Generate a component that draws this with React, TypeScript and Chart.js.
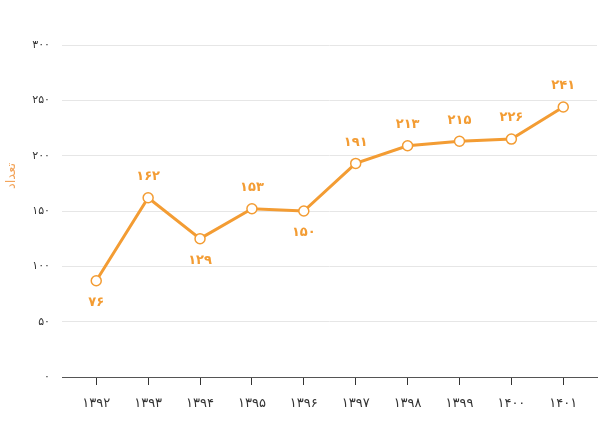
import React, { useEffect, useRef } from "react";
import { Chart, registerables } from "chart.js";

Chart.register(...registerables);

const years = [1392, 1393, 1394, 1395, 1396, 1397, 1398, 1399, 1400, 1401];
const values = [87, 162, 125, 152, 150, 193, 209, 213, 215, 244];
const valueLabels = [76, 162, 129, 153, 150, 191, 213, 215, 226, 241];
const yTicks = [0, 50, 100, 150, 200, 250, 300];
const yTitle = "تعداد";

const FA = "۰۱۲۳۴۵۶۷۸۹";
const fa = (n: number | string) => String(n).replace(/[0-9]/g, (d) => FA[Number(d)]);

const ORANGE = "#f39c33";
const FONT = "'DejaVu Sans', 'Noto Sans', sans-serif";

const labelPlugin = {
  id: "valueLabels",
  afterDatasetsDraw(chart: any) {
    const ctx = chart.ctx;
    const meta = chart.getDatasetMeta(0);
    ctx.save();
    ctx.fillStyle = ORANGE;
    ctx.font = `bold 13px ${FONT}`;
    ctx.textAlign = "center";
    ctx.textBaseline = "middle";
    meta.data.forEach((pt: any, i: number) => {
      const v = values[i];
      const prev = i > 0 ? values[i - 1] : Infinity;
      const next = i < values.length - 1 ? values[i + 1] : Infinity;
      const below = v < prev && v < next;
      ctx.fillText(fa(valueLabels[i]), pt.x, pt.y + (below ? 22 : -21));
    });
    ctx.restore();
  },
  afterDraw(chart: any) {
    const ctx = chart.ctx;
    ctx.save();
    ctx.fillStyle = "#f3a55c";
    ctx.font = `13px ${FONT}`;
    ctx.textAlign = "center";
    ctx.textBaseline = "middle";
    ctx.translate(12, 176);
    ctx.rotate(-Math.PI / 2);
    ctx.fillText(yTitle, 0, 0);
    ctx.restore();
  },
};

export default function App() {
  const ref = useRef<HTMLCanvasElement | null>(null);
  useEffect(() => {
    if (!ref.current) return;
    const chart = new Chart(ref.current, {
      type: "line",
      data: {
        datasets: [
          {
            data: years.map((y, i) => ({ x: y, y: values[i] })),
            borderColor: ORANGE,
            borderWidth: 3,
            pointRadius: 5,
            pointBorderWidth: 1.5,
            pointBackgroundColor: "#ffffff",
            pointBorderColor: ORANGE,
            tension: 0,
          },
        ],
      },
      options: {
        animation: false,
        responsive: false,
        devicePixelRatio: 1,
        layout: { padding: { top: 45, right: 7, left: 0, bottom: 0 } },
        plugins: { legend: { display: false }, tooltip: { enabled: false } },
        scales: {
          x: {
            type: "linear",
            min: 1391.34,
            max: 1401.65,
            afterBuildTicks: (scale: any) => {
              scale.ticks = years.map((v) => ({ value: v }));
            },
            afterFit: (scale: any) => {
              scale.height = 60;
            },
            grid: {
              display: true,
              drawOnChartArea: false,
              drawTicks: true,
              tickLength: 8,
              color: "#333333",
            },
            border: { display: true, color: "#555555", width: 1 },
            ticks: {
              padding: 11,
              color: "#333333",
              font: { size: 13, family: FONT },
              maxRotation: 0,
              autoSkip: false,
              callback: (v: any) => fa(v),
            },
          },
          y: {
            min: 0,
            max: 300,
            afterBuildTicks: (scale: any) => {
              scale.ticks = yTicks.map((v) => ({ value: v }));
            },
            afterFit: (scale: any) => {
              scale.width = 62;
            },
            grid: { color: "#e6e6e6", drawTicks: false, lineWidth: 1 },
            border: { display: false },
            ticks: {
              padding: 12,
              color: "#333333",
              font: { size: 11, family: FONT },
              callback: (v: any) => fa(v),
            },
          },
        },
      },
      plugins: [labelPlugin],
    } as any);
    return () => chart.destroy();
  }, []);
  return (
    <div style={{ position: "fixed", left: 0, top: 0, width: 604, height: 437, background: "#ffffff" }}>
      <canvas ref={ref} width={604} height={437} />
    </div>
  );
}
